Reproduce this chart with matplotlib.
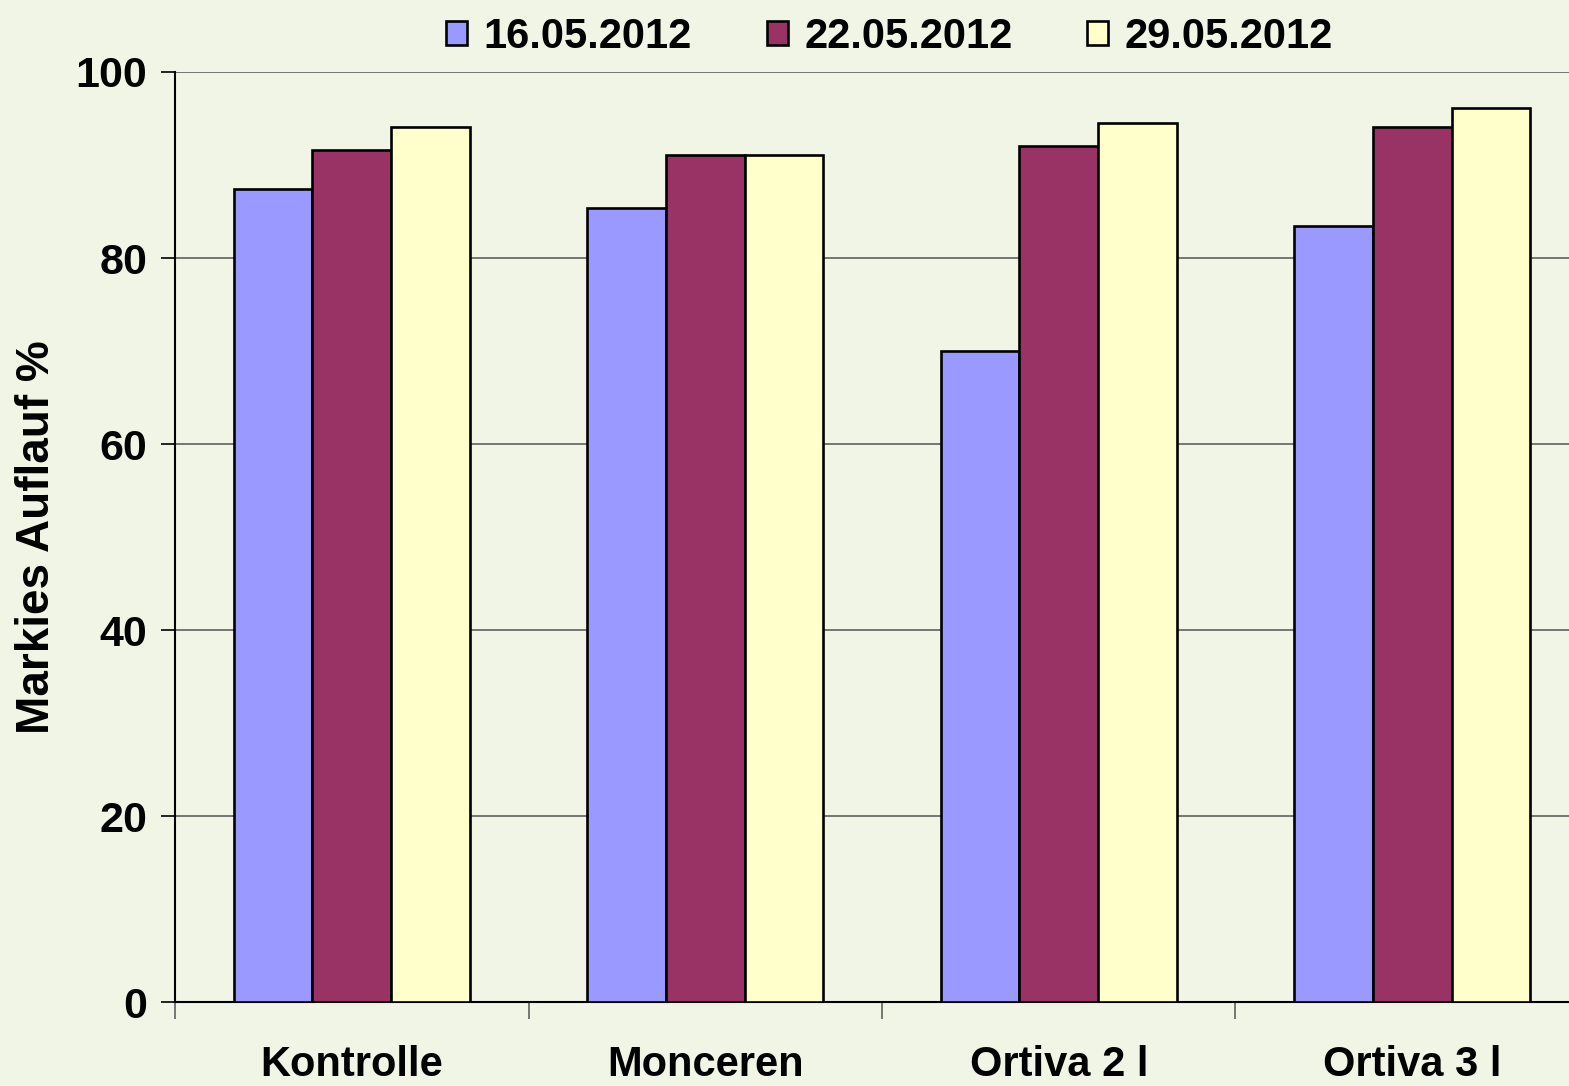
import numpy as np
import matplotlib
matplotlib.use("Agg")
import matplotlib.pyplot as plt

categories = ["Kontrolle", "Monceren", "Ortiva 2 l", "Ortiva 3 l"]
dates = ["16.05.2012", "22.05.2012", "29.05.2012"]
v_1605 = [87.4, 85.4, 70.0, 83.4]
v_2205 = [91.6, 91.1, 92.0, 94.1]
v_2905 = [94.1, 91.1, 94.5, 96.1]
colors = ["#9999FF", "#993366", "#FFFFCC"]
bg = "#F1F5E6"

plt.rcParams['font.family'] = ['Liberation Sans', 'DejaVu Sans']
plt.rcParams['font.weight'] = 'bold'

fig = plt.figure(figsize=(15.69, 10.86), dpi=100, facecolor=bg)
ax = fig.add_axes([175/1569, 84/1086, 1414/1569, 930/1086])
ax.set_facecolor(bg)

x = np.arange(len(categories)) + 0.5
w = 0.2226
for i, vals in enumerate([v_1605, v_2205, v_2905]):
    ax.bar(x + (i - 1) * w, vals, w, color=colors[i], edgecolor="black",
           linewidth=1.9, label=dates[i], zorder=3)

ax.set_xlim(0, 4)
ax.set_ylim(0, 100)
ax.set_yticks([0, 20, 40, 60, 80, 100])
ax.yaxis.grid(True, color="#606060", linewidth=1.2, zorder=0)
for s in ["top", "right"]:
    ax.spines[s].set_visible(False)
ax.spines["left"].set_linewidth(1.5)
ax.spines["bottom"].set_linewidth(1.5)
ax.tick_params(axis="y", length=10, width=1.2, labelsize=31, pad=10)

# category boundaries get the tick marks, names sit between them
ax.set_xticks([0, 1, 2, 3])
ax.set_xticklabels([])
ax.tick_params(axis="x", which="major", length=12, width=1.2, color="#606060")
ax.set_xticks(x, minor=True)
ax.set_xticklabels(categories, minor=True, fontsize=30, fontweight="bold")
ax.tick_params(axis="x", which="minor", length=0, pad=31)

fig.text(37/1569, 1 - 537/1086, "Markies Auflauf %", rotation=90,
         ha="center", va="center", fontsize=33, fontweight="bold")

fig.legend(loc="upper center", bbox_to_anchor=(0.567, 1.019), ncol=3, frameon=False,
           fontsize=30, handlelength=0.5, handleheight=0.5, handletextpad=0.4,
           columnspacing=1.8)

fig.savefig("out.png", dpi=100, facecolor=bg)
